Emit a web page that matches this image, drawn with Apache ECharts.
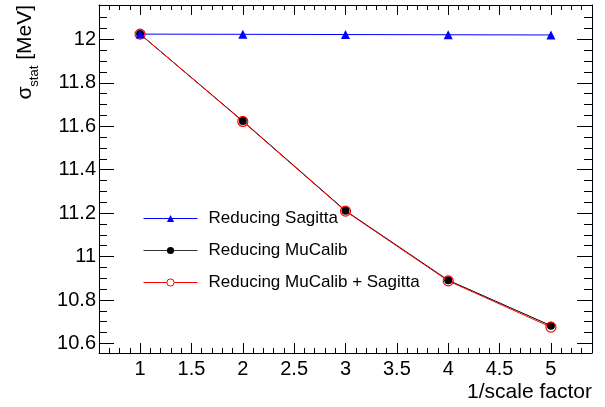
<!DOCTYPE html>
<html>
<head>
<meta charset="utf-8">
<script src="https://cdn.jsdelivr.net/npm/echarts@6/dist/echarts.min.js"></script>
<style>html,body{margin:0;padding:0;background:#fff}#c{width:605px;height:407px}</style>
</head>
<body>
<div id="c"></div>
<script>
// ---- data ----
const xValues = [1, 2, 3, 4, 5];
const sagitta = [12.024, 12.023, 12.022, 12.021, 12.020];
const mucalib = [12.024, 11.624, 11.211, 10.891, 10.682];
const combined = [12.024, 11.622, 11.209, 10.888, 10.675];
const seriesNames = ['Reducing Sagitta', 'Reducing MuCalib', 'Reducing MuCalib + Sagitta'];
const xMajorTicks = [1, 1.5, 2, 2.5, 3, 3.5, 4, 4.5, 5];
const yMajorTicks = [10.6, 10.8, 11, 11.2, 11.4, 11.6, 11.8, 12];
const xTitle = '1/scale factor';

const X_MIN = 0.6, X_MAX = 5.4, Y_MIN = 10.556, Y_MAX = 12.158;
const xMinorTicks = [];
for (let i = 6; i <= 54; i++) xMinorTicks.push(+(i / 10).toFixed(1));
const yMinorTicks = [];
for (let i = 0; i <= 31; i++) { const v = +(10.55 + i * 0.05).toFixed(2); if (v > Y_MIN && v < Y_MAX) yMinorTicks.push(v); }

const pairs = ys => xValues.map((x, i) => [x, ys[i]]);
const FONT = 'Liberation Sans';

function xAx(pos, ticks, len, showLine, showLabel) {
  return {
    type: 'value', position: pos, min: X_MIN, max: X_MAX,
    axisLine: { show: showLine, onZero: false, lineStyle: { color: '#000', width: 1 } },
    axisTick: { show: true, inside: true, length: len, customValues: ticks, lineStyle: { color: '#000', width: 1 } },
    axisLabel: showLabel ? { show: true, customValues: ticks, margin: 6, color: '#000', fontFamily: FONT, fontSize: 20,
      formatter: v => String(+(+v).toFixed(2)) } : { show: false },
    splitLine: { show: false }, minorTick: { show: false }
  };
}
function yAx(pos, ticks, len, showLine, showLabel) {
  return {
    type: 'value', position: pos, min: Y_MIN, max: Y_MAX,
    axisLine: { show: showLine, onZero: false, lineStyle: { color: '#000', width: 1 } },
    axisTick: { show: true, inside: true, length: len, customValues: ticks, lineStyle: { color: '#000', width: 1 } },
    axisLabel: showLabel ? { show: true, customValues: ticks, margin: 3, color: '#000', fontFamily: FONT, fontSize: 20,
      formatter: v => String(+(+v).toFixed(2)) } : { show: false },
    splitLine: { show: false }, minorTick: { show: false }
  };
}

const chart = echarts.init(document.getElementById('c'), null, { renderer: 'canvas' });
chart.setOption({
  animation: false,
  backgroundColor: '#fff',
  grid: { left: 99, right: 13, top: 5, bottom: 54, containLabel: false },
  xAxis: [
    xAx('bottom', xMajorTicks, 10, true, true),
    xAx('bottom', xMinorTicks, 5, false, false),
    xAx('top', xMajorTicks, 10, true, false),
    xAx('top', xMinorTicks, 5, false, false)
  ],
  yAxis: [
    yAx('left', yMajorTicks, 15, true, true),
    yAx('left', yMinorTicks, 8, false, false),
    yAx('right', yMajorTicks, 15, true, false),
    yAx('right', yMinorTicks, 8, false, false)
  ],
  legend: {
    orient: 'vertical', left: 143, top: 210, padding: 0, itemWidth: 54, itemHeight: 9, itemGap: 15,
    lineStyle: { width: 1 },
    data: [
      { name: seriesNames[0] },
      { name: seriesNames[1], lineStyle: { color: '#333', width: 1 } },
      { name: seriesNames[2], itemStyle: { color: '#fff', borderColor: '#ff0000', borderWidth: 1 } }
    ],
    textStyle: { color: '#000', fontFamily: FONT, fontSize: 17, padding: [0, 0, 0, 6] }
  },
  series: [
    { name: seriesNames[1], type: 'line', data: pairs(mucalib), color: '#000',
      symbol: 'circle', symbolSize: 8, lineStyle: { color: '#000', width: 1 }, itemStyle: { color: '#000' } },
    { name: seriesNames[2], type: 'line', data: pairs(combined), color: '#ff0000',
      symbol: 'circle', symbolSize: 10, lineStyle: { color: '#ff0000', width: 1 },
      itemStyle: { color: 'rgba(0,0,0,0)', borderColor: '#ff0000', borderWidth: 1.2 } },
    { name: seriesNames[0], type: 'line', data: pairs(sagitta), color: '#0000ff',
      symbol: 'triangle', symbolSize: 9, lineStyle: { color: '#0000ff', width: 1 }, itemStyle: { color: '#0000ff' } }
  ],
  graphic: [
    { type: 'text', x: 592, y: 392, style: { text: xTitle, align: 'right', verticalAlign: 'middle',
      fill: '#000', fontFamily: FONT, fontSize: 21 } },
    { type: 'text', x: 25, y: 5, rotation: Math.PI / 2,
      style: { text: '{a|σ}{s|stat}{a| [MeV]}', align: 'right', verticalAlign: 'middle', fill: '#000',
        rich: { a: { fontFamily: FONT, fontSize: 21, fill: '#000', verticalAlign: 'bottom', lineHeight: 22 },
                s: { fontFamily: FONT, fontSize: 13, fill: '#000', verticalAlign: 'bottom', lineHeight: 14, padding: [0, 0, -5, 0] } } } }
  ]
});
</script>
</body>
</html>
